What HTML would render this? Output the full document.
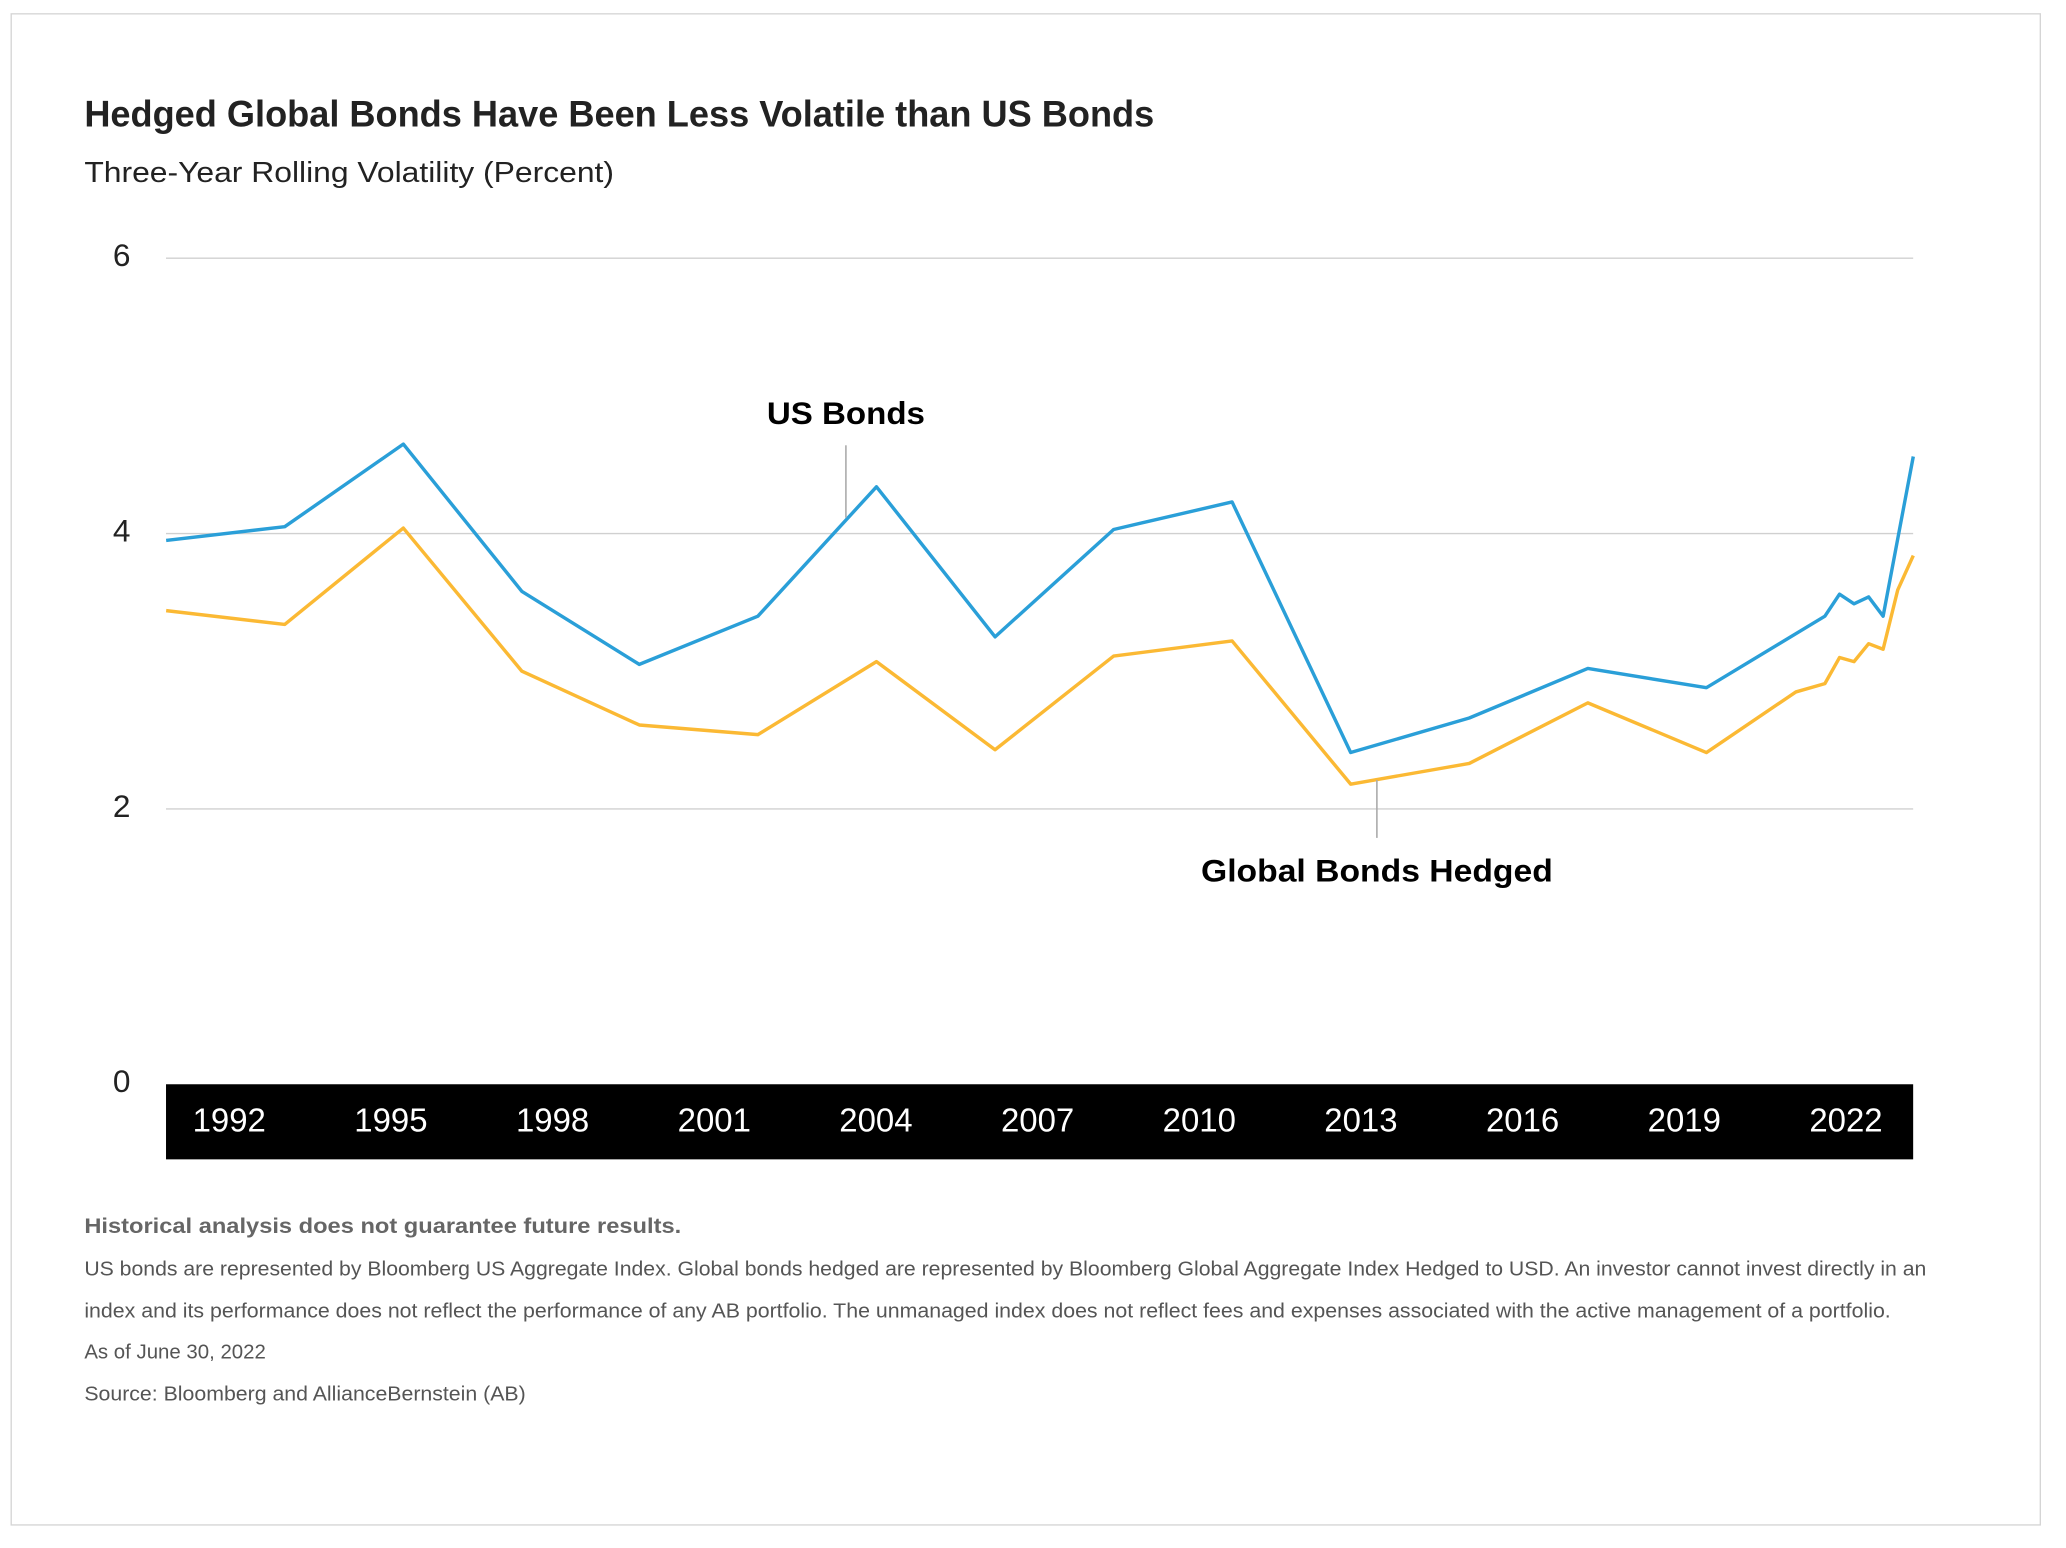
<!DOCTYPE html>
<html><head><meta charset="utf-8"><style>
html,body{margin:0;padding:0;background:#fff;}
svg{display:block;font-family:"Liberation Sans",sans-serif;}
</style></head><body>
<svg id="chart" width="2066" height="1548" viewBox="0 0 1568 1175" preserveAspectRatio="none" xmlns="http://www.w3.org/2000/svg">
<rect x="8.5" y="10.5" width="1540" height="1147" fill="#fff" stroke="#d4d4d4" stroke-width="1"/>
<text x="64" y="96" font-size="28" font-weight="bold" fill="#222" textLength="812" lengthAdjust="spacingAndGlyphs">Hedged Global Bonds Have Been Less Volatile than US Bonds</text>
<text x="64" y="138" font-size="22" fill="#222" textLength="402" lengthAdjust="spacingAndGlyphs">Three-Year Rolling Volatility (Percent)</text>
<g id="grid"></g>
<rect x="126" y="823" width="1326" height="57" fill="#000"/>
<g id="xaxis"></g>
<g id="series"></g>
<line x1="642" y1="338" x2="642" y2="393" stroke="#aaa" stroke-width="1.2"/>
<text x="642" y="322" font-size="24" font-weight="bold" text-anchor="middle" fill="#000" textLength="120" lengthAdjust="spacingAndGlyphs">US Bonds</text>
<line x1="1045" y1="592" x2="1045" y2="636" stroke="#aaa" stroke-width="1.2"/>
<text x="1045" y="669" font-size="24" font-weight="bold" text-anchor="middle" fill="#000" textLength="267" lengthAdjust="spacingAndGlyphs">Global Bonds Hedged</text>
<text x="64" y="936" font-size="16" font-weight="bold" fill="#666" textLength="453" lengthAdjust="spacingAndGlyphs">Historical analysis does not guarantee future results.</text>
<text x="64" y="968" font-size="15.5" fill="#555" textLength="1398" lengthAdjust="spacingAndGlyphs">US bonds are represented by Bloomberg US Aggregate Index. Global bonds hedged are represented by Bloomberg Global Aggregate Index Hedged to USD. An investor cannot invest directly in an</text>
<text x="64" y="1000" font-size="15.5" fill="#555" textLength="1371" lengthAdjust="spacingAndGlyphs">index and its performance does not reflect the performance of any AB portfolio. The unmanaged index does not reflect fees and expenses associated with the active management of a portfolio.</text>
<text x="64" y="1031" font-size="15.5" fill="#555">As of June 30, 2022</text>
<text x="64" y="1063" font-size="15.5" fill="#555" textLength="335" lengthAdjust="spacingAndGlyphs">Source: Bloomberg and AllianceBernstein (AB)</text>
</svg>
<script>
const yTicks = [0, 2, 4, 6];
const xTickLabels = [1992, 1995, 1998, 2001, 2004, 2007, 2010, 2013, 2016, 2019, 2022];
const usDates = [1990.83, 1993.03, 1995.23, 1997.43, 1999.61, 2001.81, 2004.01, 2006.21, 2008.41, 2010.61, 2012.81, 2015.01, 2017.21, 2019.41, 2021.61, 2021.88, 2022.15, 2022.42, 2022.69, 2023.25];
const usValues = [3.95, 4.05, 4.65, 3.58, 3.05, 3.40, 4.34, 3.25, 4.03, 4.23, 2.41, 2.66, 3.02, 2.88, 3.40, 3.56, 3.49, 3.54, 3.40, 4.56];
const globalDates = [1990.83, 1993.03, 1995.23, 1997.43, 1999.61, 2001.81, 2004.01, 2006.21, 2008.41, 2010.61, 2012.81, 2015.01, 2017.21, 2019.41, 2021.07, 2021.61, 2021.88, 2022.15, 2022.42, 2022.69, 2022.96, 2023.25];
const globalValues = [3.44, 3.34, 4.04, 3.00, 2.61, 2.54, 3.07, 2.43, 3.11, 3.22, 2.18, 2.33, 2.77, 2.41, 2.85, 2.91, 3.10, 3.07, 3.20, 3.16, 3.59, 3.84];

const NS = "http://www.w3.org/2000/svg";
const xScale = yr => 174 + (yr - 1992) * 40.9;
const yScale = v => 823 - v * 104.5;

const grid = document.getElementById('grid');
yTicks.forEach(t => {
  if (t > 0) {
    const l = document.createElementNS(NS, 'line');
    
    
    l.setAttribute('x1', 126); l.setAttribute('x2', 1452);
    l.setAttribute('y1', yScale(t)); l.setAttribute('y2', yScale(t));
    l.setAttribute('stroke', '#d0d0d0'); l.setAttribute('stroke-width', '1');
    grid.appendChild(l);
  }
  const tx = document.createElementNS(NS, 'text');
  
  
  tx.setAttribute('x', 99); tx.setAttribute('y', yScale(t) + 6);
  tx.setAttribute('text-anchor', 'end'); tx.setAttribute('font-size', '24');
  tx.setAttribute('fill', '#222');
  tx.textContent = t;
  grid.appendChild(tx);
});

const xaxis = document.getElementById('xaxis');
xTickLabels.forEach(yr => {
  const tx = document.createElementNS(NS, 'text');
  
  
  tx.setAttribute('x', xScale(yr)); tx.setAttribute('y', 859);
  tx.setAttribute('text-anchor', 'middle'); tx.setAttribute('font-size', '25');
  tx.setAttribute('fill', '#fff');
  tx.textContent = yr;
  xaxis.appendChild(tx);
});

const series = document.getElementById('series');
function drawLine(dates, vals, color, name) {
  const p = document.createElementNS(NS, 'polyline');
  
  
  p.setAttribute('points', dates.map((d, i) => xScale(d).toFixed(1) + ',' + yScale(vals[i]).toFixed(1)).join(' '));
  p.setAttribute('fill', 'none'); p.setAttribute('stroke', color);
  p.setAttribute('stroke-width', '2.6'); p.setAttribute('stroke-linejoin', 'round');
  series.appendChild(p);
}
drawLine(globalDates, globalValues, '#FBB934', 'global-bonds-hedged-line');
drawLine(usDates, usValues, '#2A9FD8', 'us-bonds-line');
</script>
</body></html>
